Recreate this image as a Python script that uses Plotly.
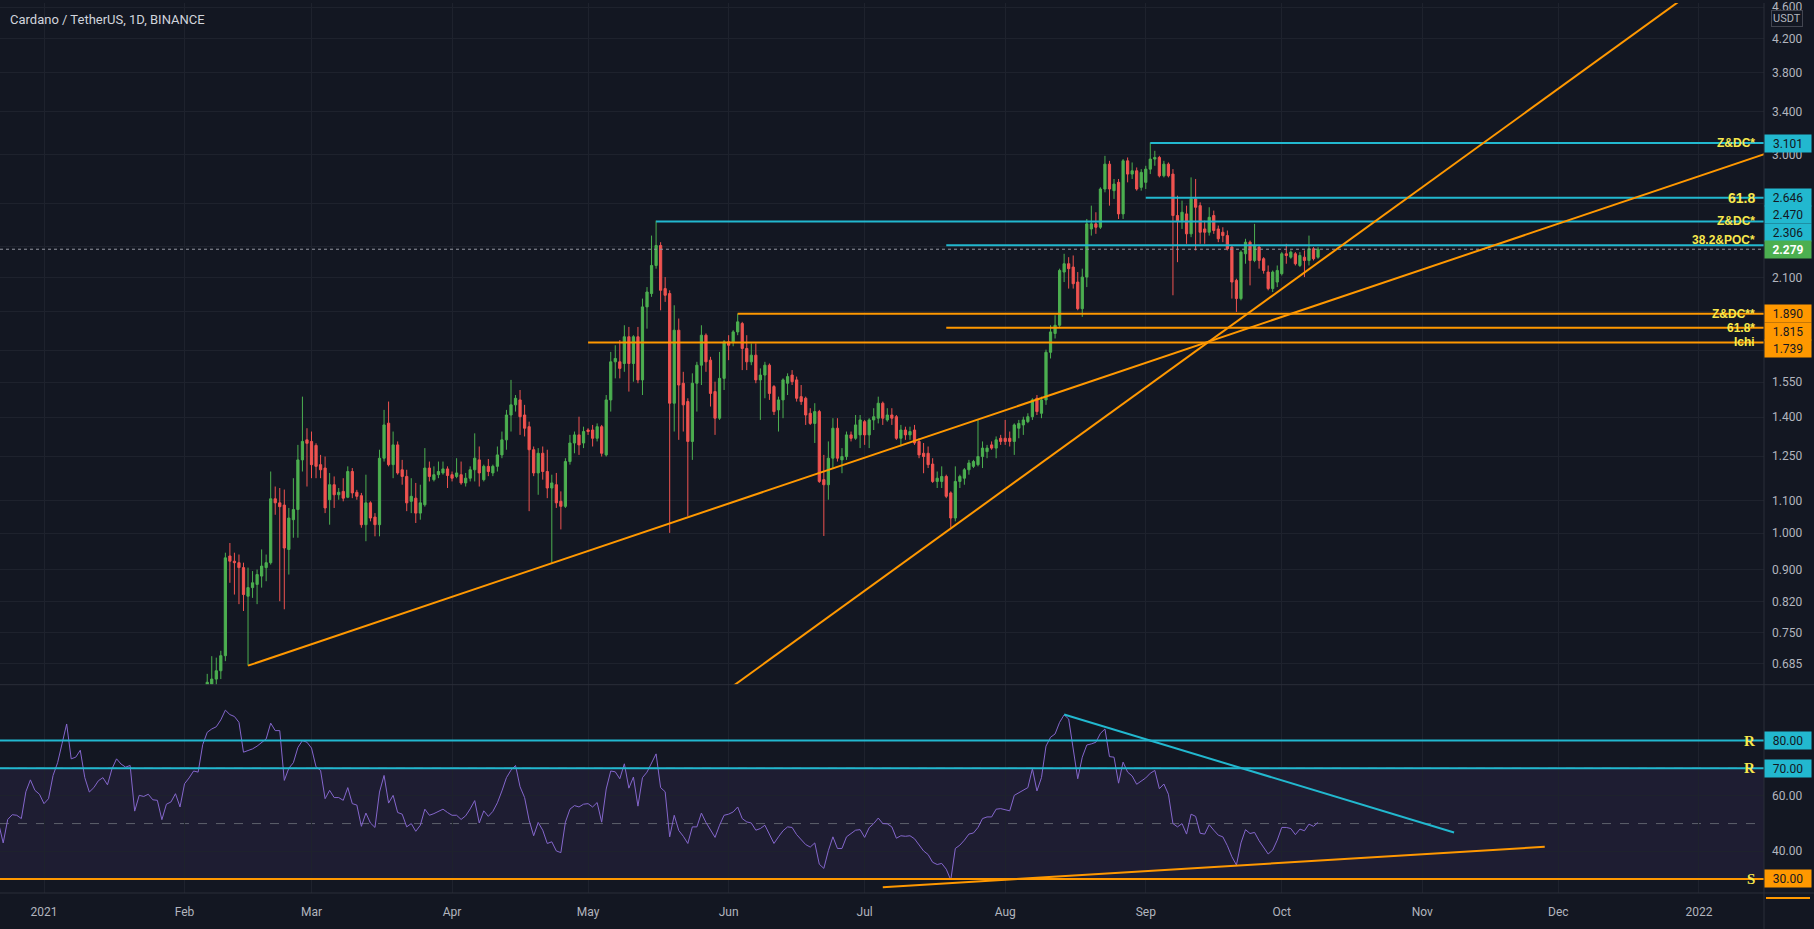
import math
import pandas as pd
import plotly.graph_objects as go

# ---------------- colours / fonts ----------------
BG = "#131722"
GRID = "#1e222d"
SEP = "#2a2e39"
AXIS_TXT = "#b2b5be"
CYAN = "#22b8cf"
ORANGE = "#ff9800"
YELLOW = "#f7e84d"
UP = "#4caf50"
DOWN = "#ef5350"
RSI_COLOR = "#8466cc"
FONT = "Roboto, Liberation Sans, sans-serif"

TITLE = "Cardano / TetherUS, 1D, BINANCE"

# ---------------- candles (daily, 2021-02-06 .. 2021-10-09) ----------------
candle_first_day = "2021-02-06"
candle_last_day = "2021-10-09"

opens = [
    0.630,0.645,0.655,0.671,0.701,0.936,0.922,0.918,0.905,0.833,0.854,0.862,0.883,0.905,0.918,1.105,1.092,1.085,0.954,1.040,1.071,1.237,1.311,
    1.305,1.290,1.220,1.208,1.102,1.151,1.118,1.129,1.110,1.196,1.126,1.115,1.025,1.092,1.048,1.025,1.243,1.376,1.220,1.292,1.202,1.179,1.097,1.107,1.060,1.086,1.208,1.168,1.185,1.191,1.205,
    1.185,1.179,1.185,1.157,1.173,1.202,1.237,1.168,1.214,1.191,1.214,1.255,1.311,1.409,1.451,1.472,1.409,1.362,1.274,1.191,1.261,1.196,1.140,1.151,1.097,1.081,1.231,1.299,1.330,1.299,
    1.349,1.349,1.317,1.362,1.255,1.472,1.644,1.644,1.636,1.768,1.636,1.768,1.560,1.928,2.004,2.174,2.304,2.033,2.004,1.458,1.802,1.545,1.465,1.305,1.545,1.628,1.776,1.652,1.508,1.396,1.567,
    1.742,1.742,1.793,1.837,1.709,1.644,1.676,1.560,1.582,1.628,1.530,1.430,1.472,1.545,1.582,1.560,1.486,1.479,1.416,1.375,1.423,1.168,1.151,1.243,1.356,1.237,1.249,1.330,1.317,1.330,
    1.382,1.330,1.389,1.396,1.458,1.389,1.409,1.402,1.317,1.349,1.330,1.349,1.305,1.261,1.261,1.222,1.162,1.162,1.179,1.124,1.045,1.162,1.173,1.202,1.214,1.220,1.249,1.267,1.292,1.280,1.317,
    1.317,1.317,1.305,1.356,1.369,1.382,1.402,1.479,1.416,1.472,1.690,1.785,1.828,2.133,2.185,2.164,2.072,1.918,2.102,2.417,2.453,2.429,2.714,2.917,2.701,2.767,2.525,2.945,2.834,2.861,2.727,
    2.767,2.875,2.960,2.974,2.820,2.917,2.834,2.513,2.476,2.525,2.383,2.637,2.586,2.417,2.394,2.513,2.417,2.394,2.371,2.293,2.082,1.975,2.249,2.326,2.206,2.293,2.217,2.133,2.033,2.072,
    2.123,2.249,2.227,2.249,2.174,2.227,2.206,2.282,2.227,
]
highs = [
    0.665,0.700,0.697,0.711,0.945,0.972,0.945,0.940,0.918,0.905,0.896,0.900,0.954,0.940,1.196,1.145,1.140,1.135,1.076,1.173,1.292,1.486,1.356,
    1.343,1.298,1.255,1.249,1.191,1.179,1.140,1.173,1.214,1.208,1.134,1.124,1.185,1.097,1.060,1.274,1.430,1.465,1.343,1.305,1.237,1.202,1.173,1.157,1.151,1.280,1.231,1.214,1.231,1.231,1.214,
    1.196,1.243,1.231,1.191,1.214,1.336,1.286,1.220,1.240,1.220,1.286,1.343,1.430,1.560,1.493,1.515,1.451,1.382,1.286,1.280,1.286,1.274,1.185,1.191,1.129,1.243,1.330,1.343,1.402,1.362,
    1.356,1.369,1.375,1.369,1.493,1.692,1.725,1.751,1.828,1.819,1.776,1.819,1.975,2.042,2.371,2.476,2.326,2.102,2.023,1.937,1.864,1.597,1.479,1.590,1.644,1.828,1.785,1.668,1.552,1.692,1.751,
    1.776,1.802,1.891,1.846,1.776,1.734,1.734,1.613,1.644,1.636,1.537,1.486,1.567,1.590,1.605,1.575,1.537,1.486,1.437,1.458,1.430,1.255,1.305,1.396,1.396,1.280,1.343,1.343,1.409,1.409,
    1.389,1.396,1.437,1.486,1.465,1.437,1.437,1.409,1.369,1.362,1.362,1.369,1.317,1.299,1.286,1.243,1.196,1.214,1.185,1.129,1.214,1.185,1.208,1.237,1.237,1.389,1.305,1.292,1.305,1.324,1.330,
    1.389,1.343,1.375,1.389,1.402,1.416,1.479,1.493,1.486,1.703,1.828,1.882,2.154,2.249,2.227,2.238,2.133,2.154,2.488,2.586,2.537,2.727,2.988,2.945,2.794,2.794,2.960,2.974,2.931,2.889,2.875,
    2.903,3.106,3.032,2.988,2.945,2.931,2.875,2.662,2.624,2.586,2.807,2.794,2.611,2.476,2.574,2.549,2.441,2.429,2.406,2.304,2.092,2.271,2.349,2.337,2.453,2.304,2.227,2.174,2.143,2.174,
    2.260,2.315,2.271,2.260,2.260,2.271,2.371,2.293,2.293,
]
lows = [
    0.620,0.625,0.643,0.655,0.690,0.866,0.837,0.814,0.798,0.681,0.829,0.814,0.854,0.870,0.913,1.055,0.821,0.802,0.887,0.987,0.987,1.196,1.145,
    1.173,1.173,1.173,1.060,1.025,1.076,1.102,1.097,1.107,1.107,1.102,1.016,0.977,1.035,0.991,0.991,1.231,1.214,1.173,1.185,1.151,1.066,1.060,1.030,1.040,1.080,1.162,1.162,1.173,1.185,1.140,
    1.162,1.173,1.151,1.145,1.162,1.162,1.145,1.162,1.180,1.180,1.196,1.243,1.274,1.343,1.423,1.330,1.324,1.066,1.180,1.118,1.168,1.107,0.918,1.076,1.011,1.076,1.220,1.261,1.255,1.280,
    1.330,1.286,1.305,1.249,1.249,1.423,1.567,1.567,1.597,1.508,1.552,1.545,1.493,1.810,1.985,2.154,1.909,1.956,1.001,1.343,1.311,1.343,1.050,1.237,1.423,1.537,1.597,1.444,1.330,1.389,1.515,
    1.652,1.720,1.776,1.605,1.605,1.628,1.545,1.389,1.479,1.472,1.409,1.343,1.396,1.493,1.537,1.465,1.451,1.369,1.369,1.299,1.157,0.992,1.102,1.208,1.231,1.190,1.237,1.305,1.311,1.280,
    1.292,1.280,1.349,1.375,1.369,1.382,1.369,1.311,1.286,1.311,1.311,1.292,1.243,1.190,1.208,1.157,1.140,1.140,1.107,1.016,1.035,1.140,1.151,1.185,1.208,1.214,1.208,1.243,1.274,1.243,1.292,
    1.292,1.286,1.255,1.317,1.330,1.376,1.389,1.409,1.396,1.451,1.660,1.759,1.819,2.072,2.033,2.033,1.909,1.873,2.042,2.371,2.383,2.417,2.688,2.586,2.637,2.488,2.488,2.767,2.794,2.701,2.701,
    2.714,2.834,2.903,2.807,2.807,2.807,1.994,2.195,2.417,2.315,2.360,2.271,2.315,2.315,2.371,2.383,2.326,2.326,2.271,1.975,1.900,1.965,2.185,2.052,2.195,2.154,2.123,2.023,2.013,2.042,
    2.112,2.185,2.217,2.174,2.164,2.102,2.174,2.206,2.217,
]
closes = [
    0.649,0.655,0.671,0.701,0.931,0.922,0.918,0.905,0.837,0.854,0.866,0.887,0.909,0.918,1.105,1.092,1.080,0.958,1.045,1.071,1.237,1.305,1.298,
    1.220,1.214,1.202,1.076,1.151,1.118,1.126,1.107,1.196,1.124,1.113,1.025,1.092,1.045,1.025,1.243,1.369,1.220,1.292,1.191,1.179,1.092,1.113,1.060,1.092,1.208,1.179,1.185,1.196,1.205,1.182,
    1.173,1.191,1.157,1.173,1.202,1.243,1.191,1.214,1.196,1.214,1.255,1.311,1.409,1.451,1.479,1.402,1.356,1.274,1.191,1.261,1.196,1.140,1.157,1.092,1.081,1.231,1.299,1.330,1.292,1.343,
    1.343,1.317,1.362,1.261,1.472,1.644,1.660,1.613,1.768,1.636,1.768,1.560,1.928,2.013,2.174,2.304,2.023,1.994,1.458,1.802,1.537,1.451,1.305,1.545,1.628,1.776,1.644,1.500,1.396,1.567,1.742,
    1.725,1.793,1.846,1.709,1.644,1.676,1.560,1.582,1.628,1.500,1.423,1.472,1.560,1.575,1.552,1.479,1.465,1.409,1.375,1.423,1.162,1.151,1.243,1.356,1.243,1.249,1.330,1.317,1.369,1.389,
    1.330,1.389,1.402,1.458,1.396,1.409,1.396,1.317,1.349,1.330,1.343,1.299,1.255,1.249,1.220,1.162,1.173,1.179,1.113,1.045,1.162,1.179,1.202,1.226,1.231,1.249,1.280,1.280,1.280,1.311,1.305,
    1.305,1.305,1.369,1.375,1.389,1.402,1.472,1.423,1.472,1.690,1.793,1.828,2.143,2.185,2.154,2.062,1.918,2.102,2.453,2.453,2.429,2.714,2.917,2.714,2.753,2.525,2.945,2.834,2.861,2.714,2.848,
    2.875,2.960,2.974,2.820,2.917,2.820,2.513,2.476,2.537,2.383,2.637,2.574,2.394,2.394,2.500,2.406,2.349,2.371,2.282,2.072,1.975,2.260,2.326,2.206,2.304,2.206,2.143,2.033,2.133,2.143,
    2.249,2.238,2.260,2.185,2.238,2.206,2.282,2.217,2.279,
]

# ---------------- RSI (daily, 2020-12-22 .. 2021-10-09) ----------------
rsi_first_day = "2020-12-22"
rsi_values = [
    50, 43, 51.5, 53.2, 53, 51.8, 61.5, 65.8, 62, 60.6,
    57.2, 59, 67.4, 72, 79, 86, 73.4, 74, 76.5, 66.6,
    61.4, 63, 65.5, 66.6, 64, 69.8, 73.4, 71.5, 70.4, 71,
    54.5, 60.2, 59.8, 60.6, 58.6, 58.4, 51.4, 57, 57.8, 60.8,
    56, 64.4, 66.5, 69, 68.6, 78.5, 83, 84.2, 85, 87.5,
    91, 89.4, 88.7, 86.6, 75.8, 76.5, 77, 78, 79.2, 80.6,
    86.3, 83.6, 83.6, 65.6, 70, 72, 77.5, 80, 79.4, 77.3,
    70.5, 69.2, 59, 62, 59.4, 59.4, 58.4, 63, 57.2, 56.7,
    49, 53.8, 50.2, 48.6, 61.4, 67.4, 57.4, 60.2, 54, 53.4,
    48.8, 50, 47.2, 49.4, 55.2, 53, 53.6, 54.4, 55.2, 54,
    53, 53, 51.5, 52.8, 55.3, 58.3, 50.2, 54.6, 52.6, 54.4,
    57.5, 61.8, 66.6, 69.3, 71, 63.3, 59.4, 51.2, 45.6, 50.4,
    47.6, 42.8, 43.4, 40.1, 39.5, 50.5, 55.2, 56.5, 56, 57,
    57.2, 56, 57.6, 50.5, 62.5, 69, 68.7, 66.2, 71.6, 62.8,
    66.8, 56.3, 66.6, 68.6, 72.2, 75.2, 63, 61.5, 45.2, 53,
    47.5, 45.4, 42.8, 48.8, 48.8, 53.8, 50.4, 47.6, 45, 49.4,
    53, 53.4, 54.2, 56, 51.8, 50.6, 50.2, 47.6, 48.2, 49.4,
    45.8, 42.8, 45.2, 47.4, 48.8, 48.6, 46, 44.2, 42.4, 41.5,
    43, 35.3, 33.8, 40.2, 45.2, 41, 41, 45.2, 46.4, 47.6,
    47.8, 45, 48.5, 50, 52, 50, 49.9, 48.8, 44.7, 45.6,
    45.4, 45.6, 44.5, 42.2, 40.1, 38.8, 36, 35.2, 35.6, 33.5,
    29.6, 41, 42.2, 44, 46.2, 46.6, 48.6, 51.8, 52.4, 52.4,
    55.2, 55.4, 55, 54.6, 60.2, 61.2, 62.2, 63, 69.8, 61.8,
    66.6, 78, 81.2, 82.4, 86.6, 89.3, 87.8, 77, 66.2, 74,
    78.4, 78.8, 79.4, 82.6, 84.2, 74.2, 74, 64.6, 72.2, 68.6,
    67.2, 64.2, 65.3, 66.5, 68.2, 69.2, 62.6, 64.3, 60.6, 50,
    48.8, 50, 46.2, 53.4, 52.6, 46.5, 46.2, 49.6, 47.6, 45.8,
    45.2, 42, 38, 35, 43, 47.8, 46.4, 46.8, 43.8, 41.5,
    39, 40.4, 44, 48.6, 48.6, 48.2, 46, 48, 47.4, 49.8,
    49, 50.4,
]

# ---------------- axis ticks ----------------
month_ticks = ["2021-01-01", "2021-02-01", "2021-03-01", "2021-04-01", "2021-05-01", "2021-06-01",
               "2021-07-01", "2021-08-01", "2021-09-01", "2021-10-01", "2021-11-01", "2021-12-01", "2022-01-01"]
month_labels = ["2021", "Feb", "Mar", "Apr", "May", "Jun", "Jul", "Aug", "Sep", "Oct", "Nov", "Dec", "2022"]

price_ticks = [0.685, 0.75, 0.82, 0.9, 1.0, 1.1, 1.25, 1.4, 1.55, 1.7, 1.9, 2.1, 2.3, 2.6, 3.0, 3.4, 3.8, 4.2, 4.6]
price_tick_text = ["0.685", "0.750", "0.820", "0.900", "1.000", "1.100", "1.250", "1.400", "1.550", "", "",
                   "2.100", "", "", "3.000", "3.400", "3.800", "4.200", "4.600"]

rsi_ticks = [40, 60]
rsi_tick_text = ["40.00", "60.00"]

# ---------------- drawings ----------------
level_prices = [3.101, 2.646, 2.470, 2.306, 1.890, 1.815, 1.739]
level_starts = ["2021-09-02", "2021-09-01", "2021-05-16", "2021-07-19", "2021-06-03", "2021-07-19", "2021-05-01"]
level_names = ["Z&DC*", "61.8", "Z&DC*", "38.2&POC*", "Z&DC**", "61.8*", "Ichi"]
level_colors = [CYAN, CYAN, CYAN, CYAN, ORANGE, ORANGE, ORANGE]
level_box_shift = [0, 0, 6.6, 12.9, 0, -3.4, -6.1]
level_name_shift = [0, 0, 0, 5, 0, 0, 0]
level_name_size = [12, 14, 12, 12, 12, 12, 12]

last_price = 2.279

trend1_dates = ["2021-02-15", "2022-01-16"]
trend1_prices = [0.681, 3.01]
trend2_dates = ["2021-06-01", "2021-12-31"]
trend2_prices = [0.636, 4.83]

rsi_levels = [80, 70, 30]
rsi_level_names = ["R", "R", "S"]
rsi_level_colors = [CYAN, CYAN, ORANGE]

rsi_cyan_dates = ["2021-08-14", "2021-11-08"]
rsi_cyan_values = [89.4, 46.8]
rsi_orange_dates = ["2021-07-05", "2021-11-28"]
rsi_orange_values = [27.0, 41.6]

# ---------------- geometry ----------------
W, H = 1814, 929
PLOT_W = 1764
PLOT_H = 893
SPLIT_PX = 684
split = (PLOT_H - SPLIT_PX) / PLOT_H
X_RANGE = ["2020-12-22 07:06", "2022-01-15 08:38"]
MAIN_RANGE = [math.log10(0.6444), math.log10(4.655)]
RSI_RANGE = [24.9, 100.2]
X_END = "2022-02-15"

candle_dates = pd.date_range(candle_first_day, candle_last_day, freq="D")
rsi_dates = pd.date_range(rsi_first_day, candle_last_day, freq="D")
assert len(candle_dates) == len(opens) == len(highs) == len(lows) == len(closes)
assert len(rsi_dates) == len(rsi_values)

fig = go.Figure()

# horizontal levels (under candles)
for p, s, c in zip(level_prices, level_starts, level_colors):
    fig.add_trace(go.Scatter(x=[s, X_END], y=[p, p], mode="lines", line=dict(color=c, width=2),
                             xaxis="x", yaxis="y", hoverinfo="skip"))

fig.add_trace(go.Scatter(x=[X_RANGE[0], X_END], y=[last_price, last_price], mode="lines",
                         line=dict(color="#9598a1", width=1, dash="dot"), xaxis="x", yaxis="y", hoverinfo="skip"))

fig.add_trace(go.Candlestick(
    x=candle_dates, open=opens, high=highs, low=lows, close=closes,
    increasing=dict(line=dict(color=UP, width=1), fillcolor=UP),
    decreasing=dict(line=dict(color=DOWN, width=1), fillcolor=DOWN),
    whiskerwidth=0, xaxis="x", yaxis="y", hoverinfo="none"))

for dts, prs in [(trend1_dates, trend1_prices), (trend2_dates, trend2_prices)]:
    fig.add_trace(go.Scatter(x=dts, y=prs, mode="lines", line=dict(color=ORANGE, width=2),
                             xaxis="x", yaxis="y", hoverinfo="skip"))

# RSI pane
fig.add_trace(go.Scatter(x=rsi_dates, y=rsi_values, mode="lines", line=dict(color=RSI_COLOR, width=1),
                         xaxis="x2", yaxis="y2", hoverinfo="skip"))
for v, c in zip(rsi_levels, rsi_level_colors):
    fig.add_trace(go.Scatter(x=[X_RANGE[0], X_END], y=[v, v], mode="lines", line=dict(color=c, width=2),
                             xaxis="x2", yaxis="y2", hoverinfo="skip"))
fig.add_trace(go.Scatter(x=rsi_cyan_dates, y=rsi_cyan_values, mode="lines", line=dict(color=CYAN, width=2),
                         xaxis="x2", yaxis="y2", hoverinfo="skip"))
fig.add_trace(go.Scatter(x=rsi_orange_dates, y=rsi_orange_values, mode="lines", line=dict(color=ORANGE, width=2),
                         xaxis="x2", yaxis="y2", hoverinfo="skip"))

tickfont = dict(color=AXIS_TXT, size=12, family=FONT)
fig.update_layout(
    width=W, height=H, margin=dict(l=0, r=W - PLOT_W, t=0, b=H - PLOT_H),
    paper_bgcolor=BG, plot_bgcolor=BG, showlegend=False, hovermode=False,
    xaxis=dict(type="date", range=X_RANGE, anchor="y", tickvals=month_ticks, ticktext=month_labels,
               showticklabels=False, showgrid=True, gridcolor=GRID, zeroline=False, showline=False,
               ticks="", rangeslider=dict(visible=False), fixedrange=True),
    xaxis2=dict(type="date", range=X_RANGE, anchor="y2", matches="x", tickvals=month_ticks, ticktext=month_labels,
                showgrid=True, gridcolor=GRID, zeroline=False, showline=False, ticks="",
                tickfont=tickfont, ticklabelstandoff=10, fixedrange=True),
    yaxis=dict(domain=[split, 1], type="log", range=MAIN_RANGE, side="right", anchor="x",
               tickvals=price_ticks, ticktext=price_tick_text, showgrid=True, gridcolor=GRID,
               zeroline=False, showline=False, ticks="", tickfont=tickfont, ticklabelstandoff=7,
               ticklabeloverflow="allow", fixedrange=True),
    yaxis2=dict(domain=[0, split], range=RSI_RANGE, side="right", anchor="x2",
                tickvals=rsi_ticks, ticktext=rsi_tick_text, showgrid=True, gridcolor=GRID,
                zeroline=False, showline=False, ticks="", tickfont=tickfont, ticklabelstandoff=7, fixedrange=True),
)

shapes = []
# RSI background band and dashed band lines
shapes.append(dict(type="rect", xref="x2 domain", x0=0, x1=1, yref="y2", y0=30, y1=70,
                   fillcolor="rgba(126,87,194,0.10)", line=dict(width=0), layer="below"))
for v in [70, 50, 30]:
    shapes.append(dict(type="line", xref="x2 domain", x0=0, x1=1, yref="y2", y0=v, y1=v,
                       line=dict(color="#5d606b", width=1, dash="dash"), layer="below"))
# separators
x_full = W / PLOT_W
shapes.append(dict(type="line", xref="paper", x0=0, x1=x_full, yref="paper", y0=split, y1=split,
                   line=dict(color=SEP, width=1)))
shapes.append(dict(type="line", xref="paper", x0=0, x1=x_full, yref="paper", y0=0, y1=0,
                   line=dict(color=SEP, width=1)))
shapes.append(dict(type="line", xref="paper", x0=1, x1=1, yref="paper", y0=-(H - PLOT_H) / PLOT_H, y1=1,
                   line=dict(color=SEP, width=1)))
shapes.append(dict(type="line", xref="paper", x0=1766 / PLOT_W, x1=1810 / PLOT_W, yref="paper",
                   y0=-5 / PLOT_H, y1=-5 / PLOT_H, line=dict(color=ORANGE, width=2)))
fig.update_layout(shapes=shapes)

ann = []
ann.append(dict(text=TITLE, xref="paper", yref="paper", x=0, y=1, xanchor="left", yanchor="middle",
                xshift=8, yshift=-16, showarrow=False, font=dict(color="#d1d4dc", size=13, family=FONT)))
ann.append(dict(text="USDT", xref="paper", yref="paper", x=1, y=1, xanchor="left", yanchor="middle",
                xshift=7, yshift=-15, showarrow=False, bgcolor=BG, bordercolor="#434651", borderwidth=1,
                borderpad=1, font=dict(color=AXIS_TXT, size=11, family=FONT)))

for p, name, c, bs, ns, fs in zip(level_prices, level_names, level_colors, level_box_shift,
                                  level_name_shift, level_name_size):
    ann.append(dict(text="<b>%s</b>" % name, xref="paper", x=1, xanchor="right", xshift=-7,
                    yref="y", y=math.log10(p), yanchor="middle", yshift=ns, showarrow=False,
                    font=dict(color=YELLOW, size=fs, family="Liberation Sans, Arial, sans-serif")))
    ann.append(dict(text="%.3f" % p, xref="paper", x=1, xanchor="left", yref="y", y=math.log10(p),
                    yanchor="middle", yshift=bs, showarrow=False, bgcolor=c, width=46, height=17,
                    borderpad=0, align="center", font=dict(color="#131722", size=12, family=FONT)))

ann.append(dict(text="<b>%.3f</b>" % last_price, xref="paper", x=1, xanchor="left", yref="y",
                y=math.log10(last_price), yanchor="middle", showarrow=False, bgcolor=UP, width=46, height=17,
                borderpad=0, align="center", font=dict(color="#ffffff", size=12, family=FONT)))

for v, name, c in zip(rsi_levels, rsi_level_names, rsi_level_colors):
    ann.append(dict(text="<b>%s</b>" % name, xref="paper", x=1, xanchor="right", xshift=-7,
                    yref="y2", y=v, yanchor="middle", showarrow=False,
                    font=dict(color=YELLOW, size=15, family="Liberation Serif, serif")))
    ann.append(dict(text="%.2f" % v, xref="paper", x=1, xanchor="left", yref="y2", y=v,
                    yanchor="middle", showarrow=False, bgcolor=c, width=46, height=17,
                    borderpad=0, align="center", font=dict(color="#131722", size=12, family=FONT)))

fig.update_layout(annotations=ann)

fig.write_html("out.html", config={"displayModeBar": False})
